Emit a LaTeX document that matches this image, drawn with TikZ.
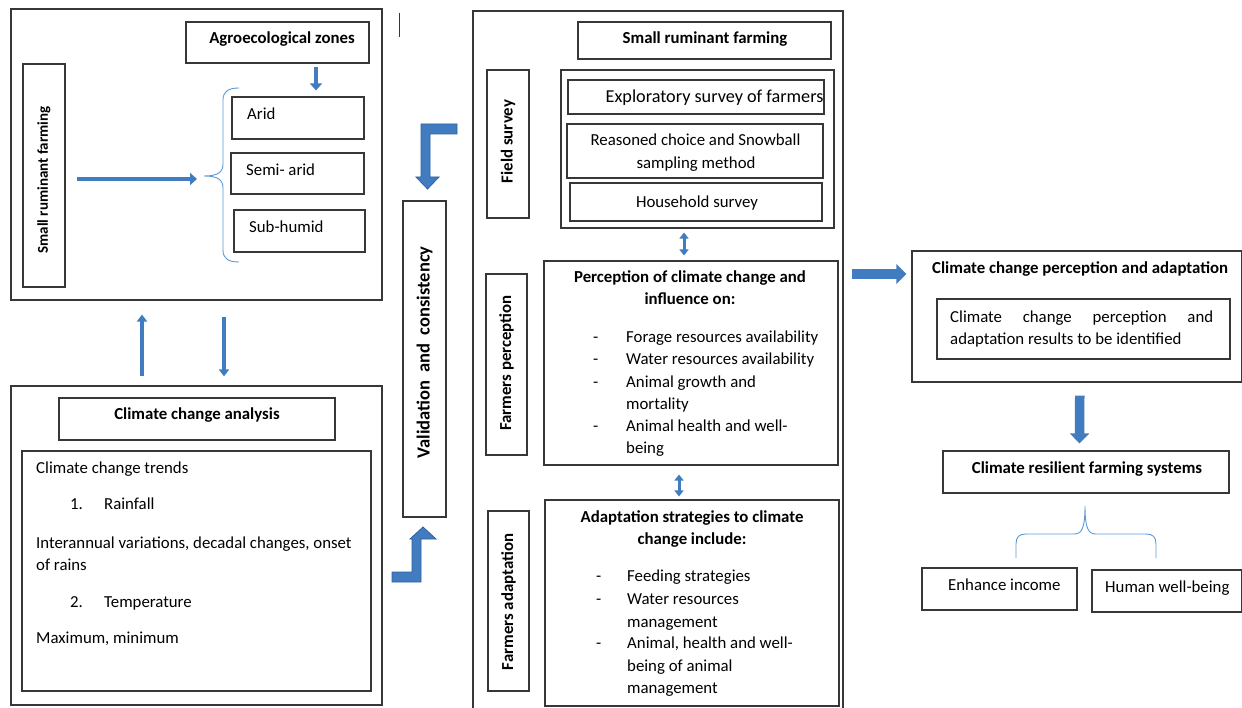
\documentclass[tikz,border=0pt]{standalone}
\usepackage{fontspec}
\setmainfont{Carlito}
\usetikzlibrary{arrows.meta}
\definecolor{abl}{RGB}{66,124,192}
\definecolor{abd}{RGB}{46,98,160}
\definecolor{brc}{RGB}{91,155,213}
\definecolor{edge}{RGB}{55,55,55}
\newcommand\fsz{\fontsize{16.8}{22.4}\selectfont}
\newcommand\Bx[7][]{\node[bx,#1,minimum width={#5-#3},minimum height={#6-#4}] (#2) at ({(#3+#5)/2},{(#4+#6)/2}) {#7};}
\tikzset{
  bx/.style={draw=edge, line width=1.1pt, inner sep=0pt},
  txt/.style={font=\fsz, inner sep=0pt, anchor=base west},
  btxt/.style={font=\fsz\bfseries, inner sep=0pt, anchor=base},
  vtxt/.style={font=\fsz\bfseries, inner sep=0pt, rotate=90},
  barrow/.style={draw=abl, fill=abl},
  thinarr/.style={barrow, line width=4.5pt, -{Triangle[width=12pt,length=7pt]}},
  dblarr/.style={barrow, line width=3pt, {Triangle[width=9pt,length=6pt]}-{Triangle[width=9pt,length=6pt]}},
  bigarr/.style={barrow, line width=9.5pt, -{Triangle[width=19pt,length=10pt]}},
  bentshape/.style={fill=abl, draw=abd, line width=0.8pt, line join=miter},
  bracestyle/.style={draw=brc, line width=0.9pt},
}
\begin{document}
\begin{tikzpicture}[x=1pt,y=-1pt]
\useasboundingbox (0,0) rectangle (1242,708);
\fill[white] (0,0) rectangle (1242,708);
% ---------- top-left block ----------
\Bx{tl}{11}{9}{382}{300}{}
\Bx{agro}{186}{22}{369}{63}{}
\Bx{srf}{23}{64}{65}{287}{}
\Bx{arid}{232}{97}{364}{139}{}
\Bx{semi}{231}{153}{364}{194}{}
\Bx{subh}{234}{210}{365}{252}{}
\node[btxt] (tagro) at (282,43.5) {Agroecological zones};
\node[vtxt, font=\fontsize{15}{18}\selectfont\bfseries] (tsrf) at (44,180) {Small ruminant farming};
\node[txt] (tarid) at (247,119.5) {Arid};
\node[txt] (tsemi) at (246,175.5) {Semi- arid};
\node[txt] (tsubh) at (249,232.5) {Sub-humid};
\coordinate (btip) at (204,176);
\draw[bracestyle] (239,88) .. controls (229,88) and (223,91) .. (223,100) -- (223,164)
  .. controls (223,172) and (218,176) .. (btip)
  .. controls (218,176) and (223,180) .. (223,188) -- (223,250)
  .. controls (223,259) and (229,262) .. (239,262);
\draw[thinarr] ([xshift=38.5pt,yshift=-3pt]agro.south) -- ([xshift=18pt,yshift=6pt]arid.north);
\draw[thinarr] ([xshift=11pt,yshift=-3.5pt]srf.east) -- ([xshift=-7pt,yshift=-3pt]btip);
\draw[edge, line width=1pt] (399,13) -- (399,37);
% ---------- bottom-left block ----------
\Bx{cca}{11}{386}{382}{705}{}
\Bx{ccah}{59}{398}{335}{440}{}
\Bx{ccai}{22}{451}{371}{691}{}
\node[btxt] (tccah) at (197,419.5) {Climate change analysis};
\node[txt] (l1) at (36,473.5) {Climate change trends};
\node[txt] (l2a) at (70,509.5) {1.};
\node[txt] (l2b) at (104,509.5) {Rainfall};
\node[txt] (l3) at (36,548.5) {Interannual variations, decadal changes, onset};
\node[txt] (l4) at (36,570.5) {of rains};
\node[txt] (l5a) at (70,607.5) {2.};
\node[txt] (l5b) at (104,607.5) {Temperature};
\node[txt] (l6) at (36,643.5) {Maximum, minimum};
\draw[thinarr, line width=4pt, -{Triangle[width=10pt,length=7pt]}] ([xshift=-54.5pt,yshift=9pt]cca.north) -- ([xshift=-54.5pt,yshift=-14pt]tl.south);
\draw[thinarr, line width=4pt, -{Triangle[width=10pt,length=7pt]}] ([xshift=27.5pt,yshift=-16pt]tl.south) -- ([xshift=27.5pt,yshift=9pt]cca.north);
% ---------- validation ----------
\Bx{valid}{403}{201}{446}{517}{}
\node[vtxt, font=\fontsize{18.5}{22}\selectfont\bfseries] (tvalid) at (424.5,352.5) {Validation\ \ and\ \ consistency};
\draw[bentshape] (457,124) -- (421,124) -- (421,177) -- (416,177) -- (427.5,189) -- (439,177) -- (430,177) -- (430,134) -- (457,134) -- cycle;
\draw[bentshape] (392,572) -- (412,572) -- (412,539) -- (410,539) -- (423,527) -- (436,539) -- (421,539) -- (421,582) -- (392,582) -- cycle;
% ---------- middle column ----------
\Bx{mid}{473}{11}{843}{712}{}
\Bx{srfh}{578}{22}{831}{59}{}
\Bx{fs}{487}{70}{529}{218}{}
\Bx{grp}{561}{70}{834}{228}{}
\Bx{expl}{568}{80}{824}{114}{}
\Bx{reas}{567}{124}{823}{178}{}
\Bx{hh}{570}{183}{822}{221}{}
\Bx{perc}{544}{261}{838}{465}{}
\Bx{fp}{486}{274}{527}{455}{}
\Bx{adap}{545}{500}{839}{706}{}
\Bx{fa}{488}{511}{529}{691}{}
\node[btxt] (tsrfh) at (705,43.5) {Small ruminant farming};
\node[vtxt] (tfs) at (508,141.5) {Field survey};
\node[txt, font=\fontsize{18.2}{22}\selectfont] (texpl) at (605.5,103) {Exploratory survey of farmers};
\node[txt, anchor=base] (treas1) at (695.5,145.5) {Reasoned choice and Snowball};
\node[txt, anchor=base] (treas2) at (696,168.5) {sampling method};
\node[txt, anchor=base] (thh) at (697,207.5) {Household survey};
\node[vtxt] (tfp) at (506.5,363) {Farmers perception};
\node[btxt] (tp1) at (690,282.5) {Perception of climate change and};
\node[btxt] (tp2) at (690,304.5) {influence on:};
\node[txt] (pd1) at (593,342.5) {-};
\node[txt] (pi1) at (626,342.5) {Forage resources availability};
\node[txt] (pd2) at (593,364.5) {-};
\node[txt] (pi2) at (626,364.5) {Water resources availability};
\node[txt] (pd3) at (593,387.5) {-};
\node[txt] (pi3) at (626,387.5) {Animal growth and};
\node[txt] (pi3b) at (626,409.5) {mortality};
\node[txt] (pd4) at (593,431.5) {-};
\node[txt] (pi4) at (626,431.5) {Animal health and well-};
\node[txt] (pi4b) at (626,453.5) {being};
\node[vtxt] (tfa) at (508.5,602) {Farmers adaptation};
\node[btxt] (ta1) at (692,522.5) {Adaptation strategies to climate};
\node[btxt] (ta2) at (692,544.5) {change include:};
\node[txt] (ad1) at (596,581.5) {-};
\node[txt] (ai1) at (627,581.5) {Feeding strategies};
\node[txt] (ad2) at (596,604.5) {-};
\node[txt] (ai2) at (627,604.5) {Water resources};
\node[txt] (ai2b) at (627,627.5) {management};
\node[txt] (ad3) at (596,648.5) {-};
\node[txt] (ai3) at (627,648.5) {Animal, health and well-};
\node[txt] (ai3b) at (627,671.5) {being of animal};
\node[txt] (ai3c) at (627,693.5) {management};
\draw[dblarr] ([xshift=-13.5pt,yshift=-4pt]grp.south) -- ([xshift=-7pt,yshift=5pt]perc.north);
\draw[dblarr] ([xshift=-12pt,yshift=-9pt]perc.south) -- ([xshift=-13pt,yshift=3pt]adap.north);
% ---------- right column ----------
\Bx{ccpa}{912}{251}{1241.5}{382}{}
\Bx{ccpi}{937}{299}{1230}{359}{}
\Bx{crfs}{943}{451}{1229}{493}{}
\Bx{inc}{922}{568}{1077}{610}{}
\Bx{hwb}{1092}{570}{1241.5}{612}{}
\node[btxt, anchor=base west] (tccpa) at (932,273.5) {Climate change perception and adaptation};
\node[txt] (tcc1) at (950,322.5) {\makebox[263pt][s]{Climate change perception and}};
\node[txt] (tcc2) at (950,344.5) {adaptation results to be identified};
\node[btxt] (tcrfs) at (1087,473.5) {Climate resilient farming systems};
\node[txt] (tinc) at (948,590.5) {Enhance income};
\node[txt] (thwb) at (1105,592.5) {Human well-being};
\draw[bigarr] ([xshift=8pt,yshift=87.5pt]mid.east) -- ([xshift=-5pt,yshift=42.5pt]ccpa.west);
\draw[bigarr] ([xshift=3pt,yshift=-13pt]ccpa.south) -- ([xshift=-6.5pt,yshift=7pt]crfs.north);
\coordinate (btip2) at (1085,506);
\draw[bracestyle] (1016,558) -- (1016,544) .. controls (1016,537) and (1019,534) .. (1026,534) -- (1074,534)
  .. controls (1081,534) and (1085,530) .. (btip2)
  .. controls (1085,530) and (1089,534) .. (1096,534) -- (1146,534)
  .. controls (1153,534) and (1156,537) .. (1156,544) -- (1156,558);
\end{tikzpicture}
\end{document}
